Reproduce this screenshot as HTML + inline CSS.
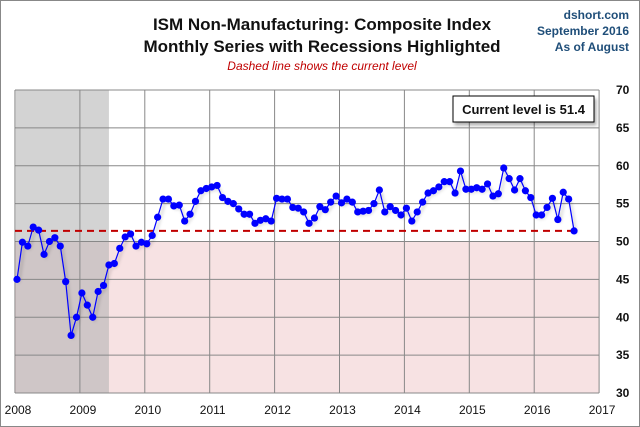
<!DOCTYPE html>
<html><head><meta charset="utf-8"><style>
body{margin:0;background:#fff;}
svg{display:block;font-family:"Liberation Sans",sans-serif;}
</style></head><body>
<svg id="chart" width="640" height="427" viewBox="0 0 640 427" xmlns="http://www.w3.org/2000/svg">
<defs><filter id="sh" x="-10%" y="-10%" width="130%" height="140%"><feDropShadow dx="2" dy="3" stdDeviation="1.5" flood-color="#000" flood-opacity="0.3"/></filter></defs>
<rect x="0.5" y="0.5" width="639" height="426" fill="#fff" stroke="#888"/>
<text x="322" y="30" text-anchor="middle" font-size="17" font-weight="bold" fill="#111">ISM Non-Manufacturing: Composite Index</text>
<text x="322" y="52" text-anchor="middle" font-size="17" font-weight="bold" fill="#111">Monthly Series with Recessions Highlighted</text>
<text x="322" y="70" text-anchor="middle" font-size="12" font-style="italic" fill="#c00000">Dashed line shows the current level</text>
<text x="629" y="19" text-anchor="end" font-size="12" font-weight="bold" fill="#1f4e79">dshort.com</text>
<text x="629" y="35" text-anchor="end" font-size="12" font-weight="bold" fill="#1f4e79">September 2016</text>
<text x="629" y="51" text-anchor="end" font-size="12" font-weight="bold" fill="#1f4e79">As of August</text>
<g id="plot"></g>
</svg>
<script>
const values2008=[45.0,49.9,49.4,51.9,51.5,48.3,50.0,50.5,49.4,44.7,37.6,40.0];
const values2009=[43.2,41.6,40.0,43.4,44.2,46.9,47.1,49.1,50.6,51.0,49.4,49.9];
const values2010=[49.7,50.8,53.2,55.6,55.6,54.7,54.8,52.7,53.6,55.3,56.7,57.0];
const values2011=[57.2,57.4,55.8,55.3,55.0,54.3,53.6,53.6,52.4,52.8,53.0,52.7];
const values2012=[55.7,55.6,55.6,54.5,54.4,53.9,52.4,53.1,54.6,54.2,55.2,56.0];
const values2013=[55.1,55.6,55.2,53.9,54.0,54.1,55.0,56.8,53.9,54.6,54.1,53.5];
const values2014=[54.4,52.7,53.9,55.2,56.4,56.7,57.2,57.9,57.9,56.4,59.3,56.9];
const values2015=[56.9,57.1,56.9,57.6,56.0,56.3,59.7,58.3,56.8,58.3,56.7,55.8];
const values2016=[53.5,53.5,54.5,55.7,52.9,56.5,55.6,51.4];
const yearLabels=["2008","2009","2010","2011","2012","2013","2014","2015","2016","2017"];
const yTicks=[30,35,40,45,50,55,60,65,70];
const recessionEndMonth=17;
const currentLevel=51.4;
const values=[].concat(values2008,values2009,values2010,values2011,values2012,values2013,values2014,values2015,values2016);

const NS="http://www.w3.org/2000/svg";
const L=15,T=90,B=393,YW=64.9;
const R=L+9*YW;
const xm=i=>17+i*(YW/12);
const xy=k=>L+k*YW;
const y=v=>T+(70-v)*(B-T)/40;
const g=document.getElementById('plot');
function mk(t,a,p){const e=document.createElementNS(NS,t);for(const k in a)e.setAttribute(k,a[k]);(p||g).appendChild(e);return e;}

let e;
e=mk('rect',{x:L,y:y(50),width:R-L,height:B-y(50),fill:'#f7e2e3'});


const rx0=L+1,rx1=xm(recessionEndMonth);
e=mk('rect',{x:rx0,y:T,width:rx1-rx0,height:y(50)-T,fill:'#d3d3d3'});


e=mk('rect',{x:rx0,y:y(50),width:rx1-rx0,height:B-y(50),fill:'#cfc6c7'});



yTicks.forEach(v=>{
 e=mk('line',{x1:L,x2:R,y1:y(v),y2:y(v),stroke:'#888','stroke-width':1});
 
 
 e=mk('text',{x:616,y:y(v)+4,'font-size':12,'font-weight':'bold',fill:'#111'});
 e.textContent=v;
 
 
});
yearLabels.forEach((lab,k)=>{
 e=mk('line',{x1:xy(k),x2:xy(k),y1:T,y2:B,stroke:'#888','stroke-width':1});
 
 
 e=mk('text',{x:xy(k)+3,y:414,'text-anchor':'middle','font-size':12,fill:'#111'});
 e.textContent=lab;
 
 
});
e=mk('line',{x1:L,x2:L,y1:T,y2:B,stroke:'#777'});



e=mk('line',{x1:L,x2:xm(values.length-1),y1:y(currentLevel),y2:y(currentLevel),stroke:'#c00000','stroke-width':2,'stroke-dasharray':'7,5'});



const pts=values.map((v,i)=>xm(i).toFixed(1)+','+y(v).toFixed(1)).join(' ');
e=mk('polyline',{points:pts,fill:'none',stroke:'#0000ff','stroke-width':1.2,filter:'url(#sh)'});


values.forEach((v,i)=>{
 e=mk('circle',{cx:xm(i),cy:y(v),r:3.6,fill:'#0000ff'});
 
 
});

e=mk('rect',{x:453,y:96,width:141,height:26,fill:'#fff',stroke:'#000','stroke-width':1,filter:'url(#sh)'});


e=mk('text',{x:523.5,y:114,'text-anchor':'middle','font-size':13,'font-weight':'bold',fill:'#111'});
e.textContent='Current level is '+currentLevel;


</script>
</body></html>
